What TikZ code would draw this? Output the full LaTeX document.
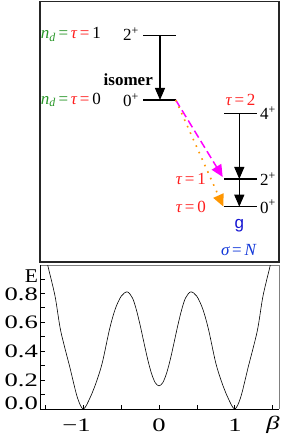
\documentclass[tikz,border=0pt]{standalone}
\usepackage{fontspec}
\setmainfont{Liberation Serif}
\newfontfamily\sansf{Liberation Sans}
\newfontfamily\axisfont[FakeStretch=1.4]{Liberation Serif}
\newfontfamily\efont[FakeStretch=1.1]{Liberation Serif}
\usetikzlibrary{arrows.meta}
\definecolor{grn}{RGB}{40,150,40}
\definecolor{rd}{RGB}{255,30,30}
\definecolor{blu}{RGB}{20,20,210}
\definecolor{mag}{RGB}{255,0,255}
\definecolor{org}{RGB}{255,150,0}
\newcommand{\lblfont}{\fontsize{17}{19}\selectfont}
\newcommand{\axfont}{\fontsize{19}{21}\axisfont}
\begin{document}
\begin{tikzpicture}[x=1pt,y=-1pt,
  lvl/.style={line width=1.3pt},
  arr/.style={line width=1.2pt,-{Triangle[length=12pt,width=10pt]}},
  lbl/.style={font=\lblfont,inner sep=0pt},
  axl/.style={font=\axfont,inner sep=0pt},
  tk/.style={line width=0.6pt}]
\useasboundingbox (0,0) rectangle (291,443);
% upper frame
\draw[line width=1.3pt,black!85] (40,1.5) rectangle (279,262);
% levels
\coordinate (a2L) at (143,35.7); \coordinate (a2R) at (175.7,35.7); \coordinate (a2m) at (160,35.7);
\coordinate (a0L) at (143,100); \coordinate (a0R) at (175.7,100); \coordinate (a0m) at (160,100);
\coordinate (b4L) at (224,113.3); \coordinate (b4R) at (256.7,113.3); \coordinate (b4m) at (239.3,113.3);
\coordinate (b2L) at (224,179); \coordinate (b2R) at (256.7,179); \coordinate (b2m) at (239.3,179);
\coordinate (b0L) at (224,206.7); \coordinate (b0R) at (256.7,206.7); \coordinate (b0m) at (239.3,206.7);
\coordinate (mtip) at (222.7,177);
\coordinate (otip) at (223.3,206.5);
\draw[lvl] (a2L) -- (a2R);
\draw[lvl] (a0L) -- (a0R);
\draw[lvl] (b4L) -- (b4R);
\draw[lvl] (b2L) -- (b2R);
\draw[lvl] (b0L) -- (b0R);
\draw[arr] (a2m) -- (a0m);
\draw[arr] (b4m) -- (b2m);
\draw[arr] (b2m) -- (b0m);
\draw[line width=1.5pt,mag,dash pattern=on 8pt off 4pt,-{Triangle[length=12pt,width=11pt]}] (a0R) -- (mtip);
\draw[line width=1.6pt,org,dash pattern=on 1.6pt off 5.5pt,-{Triangle[length=12pt,width=11pt]}] (a0R) -- (otip);
% labels
\node[lbl,anchor=east] (t2) at (139,34.5) {2\textsuperscript{+}};
\node[lbl,anchor=east] (n1) at (101,34.5) {\textcolor{grn}{\itshape n\textsubscript{d}}\textcolor{grn}{\,=\,}\textcolor{rd}{\itshape τ}\textcolor{rd}{\,=\,}1};
\node[lbl,anchor=east] (t0) at (139,100) {0\textsuperscript{+}};
\node[lbl,anchor=east] (n0) at (101,100) {\textcolor{grn}{\itshape n\textsubscript{d}}\textcolor{grn}{\,=\,}\textcolor{rd}{\itshape τ}\textcolor{rd}{\,=\,}0};
\node[lbl,anchor=east,font=\lblfont\bfseries] (iso) at (153,79.5) {isomer};
\node[lbl,text=rd] (tau2) at (240.5,100) {{\itshape τ}\,=\,2};
\node[lbl,anchor=west] (t4) at (260,113.5) {4\textsuperscript{+}};
\node[lbl,anchor=west] (t2b) at (260,179) {2\textsuperscript{+}};
\node[lbl,anchor=west] (t0b) at (260,206.7) {0\textsuperscript{+}};
\node[lbl,text=rd,anchor=east] (tau1) at (206,179) {{\itshape τ}\,=\,1};
\node[lbl,text=rd,anchor=east] (tau0) at (206,207) {{\itshape τ}\,=\,0};
\node[lbl,text=blu,font=\fontsize{17}{19}\sansf] (g) at (239.3,226) {g};
\node[lbl,text=blu!85!cyan] (sig) at (238.5,250) {{\itshape σ}\,=\,{\itshape N}};
% plot frame
\draw[black!50,line width=1pt] (40,265) -- (279,265) -- (279,409);
\draw[line width=0.9pt] (40,265) -- (40,409) -- (279,409);
% ticks (E = 0.1 ... 0.9, beta = -1.5 ... 1.5)
\foreach \e in {1,...,9} \draw[tk] (40,{409-14.46*\e}) -- ++(5,0);
\foreach \b in {-3,...,3} \draw[tk] ({159+37.8*\b},409) -- ++(0,-4);
% curve
\begin{scope}
  \clip (40,265.5) rectangle (279,409);
  \draw[line width=0.6pt] plot[smooth,tension=0.5] coordinates {
    (44.1,247.05) (47.9,265.85) (55.05,296.21) (60.72,330.92) (69.79,367.07) (77.35,397.43) (83.4,409)
    (90.2,397.43) (96.25,382.25) (102.3,362.73) (109.48,329.47) (115.15,309.23) (121.2,296.21) (127.25,291.87)
    (132.54,298.09) (136.32,309.66) (140.1,324.99) (143.88,342.34) (147.66,359.26) (151.44,373.28) (155.22,382.68)
    (159,385.86)
    (162.78,382.68) (166.56,373.28) (170.34,359.26) (174.12,342.34) (177.9,324.99) (181.68,309.66) (185.46,298.09)
    (190.75,291.87) (196.8,296.21) (202.85,309.23) (208.52,329.47) (215.7,362.73) (221.75,382.25) (227.8,397.43)
    (234.6,409) (240.65,397.43) (248.21,367.07) (257.28,330.92) (262.95,296.21) (270.1,265.85) (273.9,247.05)};
\end{scope}
% axis labels
\node[axl,font=\fontsize{19.5}{21}\efont] (E) at (31.5,276) {E};
\node[axl,anchor=east] (y8) at (38,294) {0.8};
\node[axl,anchor=east] (y6) at (38,322.5) {0.6};
\node[axl,anchor=east] (y4) at (38,351.5) {0.4};
\node[axl,anchor=east] (y2) at (38,380.5) {0.2};
\node[axl,anchor=east] (y0) at (38,403.5) {0.0};
\node[axl] (xm1) at (84,425) {\llap{−}1};
\node[axl] (x0) at (159,425) {0};
\node[axl] (x1) at (235,425) {1};
\node[axl,font=\axfont\itshape] (xb) at (273,425) {β};
\end{tikzpicture}
\end{document}
